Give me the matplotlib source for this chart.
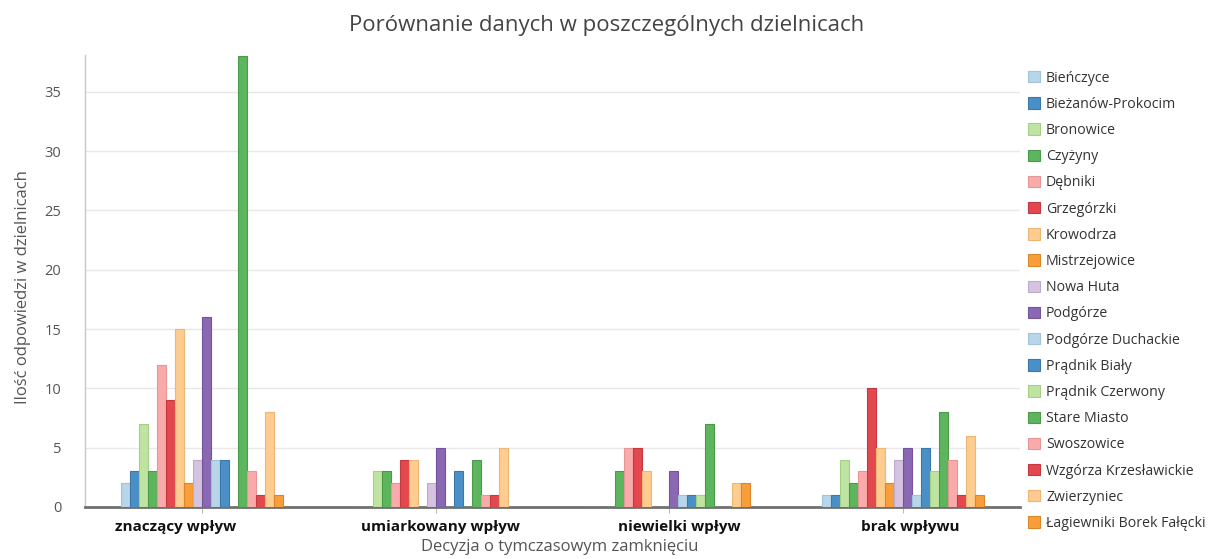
import matplotlib
matplotlib.use("Agg")
import matplotlib.pyplot as plt
import matplotlib.transforms as mtransforms
import numpy as np

plt.rcParams['font.family'] = ['Open Sans', 'DejaVu Sans']

categories = ["znaczący wpływ", "umiarkowany wpływ", "niewielki wpływ", "brak wpływu"]
series_names = ["Bieńczyce", "Bieżanów-Prokocim", "Bronowice", "Czyżyny", "Dębniki",
                "Grzegórzki", "Krowodrza", "Mistrzejowice", "Nowa Huta", "Podgórze",
                "Podgórze Duchackie", "Prądnik Biały", "Prądnik Czerwony", "Stare Miasto",
                "Swoszowice", "Wzgórza Krzesławickie", "Zwierzyniec", "Łagiewniki Borek Fałęcki"]

bienczyce = [2, 0, 0, 1]
biezanow = [3, 0, 0, 1]
bronowice = [7, 3, 0, 4]
czyzyny = [3, 3, 3, 2]
debniki = [12, 2, 5, 3]
grzegorzki = [9, 4, 5, 10]
krowodrza = [15, 4, 3, 5]
mistrzejowice = [2, 0, 0, 2]
nowa_huta = [4, 2, 0, 4]
podgorze = [16, 5, 3, 5]
podgorze_duchackie = [4, 0, 1, 1]
pradnik_bialy = [4, 3, 1, 5]
pradnik_czerwony = [0, 0, 1, 3]
stare_miasto = [38, 4, 7, 8]
swoszowice = [3, 1, 0, 4]
wzgorza = [1, 1, 0, 1]
zwierzyniec = [8, 5, 2, 6]
lagiewniki = [1, 0, 2, 1]

values = [bienczyce, biezanow, bronowice, czyzyny, debniki, grzegorzki, krowodrza,
          mistrzejowice, nowa_huta, podgorze, podgorze_duchackie, pradnik_bialy,
          pradnik_czerwony, stare_miasto, swoszowice, wzgorza, zwierzyniec, lagiewniki]

palette = ["#b7d6e9", "#4a90c6", "#bfe3a0", "#5db55d", "#f9abab",
           "#e2484e", "#fdcc8e", "#f89e3b", "#d5c3e0", "#8b68b3"]
edges = ["#9fc3da", "#3a78aa", "#a6cf86", "#4a9a4a", "#e79595",
         "#c23a40", "#ebb676", "#db862b", "#bfaacc", "#73559a"]

fig = plt.figure(figsize=(12.09, 5.59), dpi=100)
ax = fig.add_axes([85/1209, 1-507/559, 935/1209, (507-55)/559])

n = len(series_names)
w = 0.0385
x = np.arange(len(categories))
for k, (name, vals) in enumerate(zip(series_names, values)):
    ax.bar(x + (k - (n - 1) / 2) * w, vals, width=w, color=palette[k % 10],
           edgecolor=edges[k % 10], linewidth=0.8, label=name, zorder=3)

ax.set_xlim(-0.5, 3.5)
ax.set_ylim(0, 38.1)
ax.set_yticks(range(0, 36, 5))
ax.yaxis.grid(True, color="#e8e8e8", linewidth=1, zorder=0)
ax.set_axisbelow(True)
for s in ["top", "right"]:
    ax.spines[s].set_visible(False)
ax.spines["left"].set_color("#c8c8c8")
ax.spines["left"].set_linewidth(1)
ax.spines["bottom"].set_color("#707070")
ax.spines["bottom"].set_linewidth(2)
ax.tick_params(axis="y", length=0, labelsize=10.5, labelcolor="#555555", pad=17)
ax.set_xticks(x)
ax.set_xticklabels(categories, fontsize=11, fontweight="bold", color="#111111")
ax.tick_params(axis="x", length=4, color="#bbbbbb", pad=5)
label_shift_px = [-26, 5, 10, 7]
for lab, dx in zip(ax.get_xticklabels(), label_shift_px):
    lab.set_transform(lab.get_transform() +
                      mtransforms.ScaledTranslation(dx / 100, 0, fig.dpi_scale_trans))

ax.set_ylabel("Ilość odpowiedzi w dzielnicach", fontsize=12, color="#555555")
ax.yaxis.set_label_coords(-(85 - 31) / 935, (507 - 287) / 452)
ax.set_xlabel("Decyzja o tymczasowym zamknięciu", fontsize=12, color="#555555")
ax.xaxis.set_label_coords((560 - 85) / 935, -(547 - 507) / 452)
ax.xaxis.label.set_va("center")

fig.text(607/1209, 1 - 25/559, "Porównanie danych w poszczególnych dzielnicach",
         ha="center", va="center", fontsize=16, color="#444444")

leg = ax.legend(loc="upper left", bbox_to_anchor=(1022/1209, 1 - 65/559),
                bbox_transform=fig.transFigure, frameon=False, fontsize=10.2,
                handlelength=0.85, handleheight=0.85, handletextpad=0.45,
                labelspacing=0.79, borderaxespad=0)
for t in leg.get_texts():
    t.set_color("#333333")

fig.savefig("out.png", dpi=100)
